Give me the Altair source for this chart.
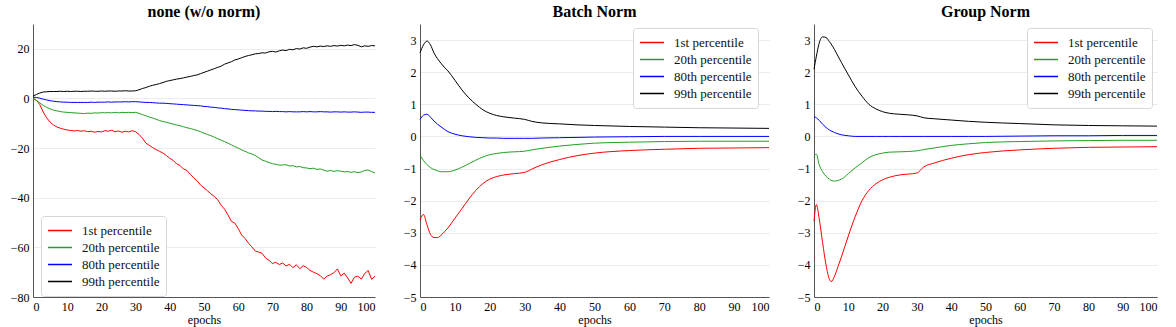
import altair as alt
import pandas as pd

SERIES = ["1st percentile", "20th percentile", "80th percentile", "99th percentile"]
COLORS = ["#ff0000", "#22a022", "#0000ff", "#000000"]
X_TICKS = [0, 10, 20, 30, 40, 50, 60, 70, 80, 90, 100]

# ---------------- Panel 1: none (w/o norm) ----------------
epochs_none = list(range(0, 101))
none_p1 = [0.0, -0.7, -2.5, -5.5, -7.8, -9.5, -10.7, -11.5, -12.0, -12.4,
           -12.7, -12.9, -13.1, -12.9, -13.2, -13.0, -13.4, -13.2, -13.6, -13.3,
           -13.5, -13.0, -13.2, -12.8, -13.4, -13.1, -13.6, -13.2, -13.5, -13.0,
           -13.4, -14.5, -16.0, -18.0, -18.9, -19.8, -20.6, -21.3, -22.0, -23.0,
           -24.1, -25.0, -26.3, -27.0, -28.4, -29.0, -30.6, -32.0, -33.2, -34.9,
           -36.0, -37.2, -38.4, -39.5, -40.8, -43.0, -44.6, -46.9, -49.5, -50.2,
           -52.4, -55.0, -56.4, -58.3, -59.8, -61.5, -61.9, -62.4, -64.3, -65.2,
           -66.5, -66.0, -66.9, -66.3, -67.5, -66.8, -68.2, -67.0, -68.6, -67.4,
           -68.1, -69.3, -70.0, -70.6, -71.4, -72.8, -71.6, -71.0, -70.2, -68.7,
           -71.5, -70.4, -72.3, -74.5, -72.0, -71.6, -72.8, -70.5, -69.3, -72.9,
           -71.6]
none_p20 = [0.0, -0.8, -1.8, -2.8, -3.6, -4.2, -4.7, -5.0, -5.3, -5.5,
            -5.6, -5.7, -5.8, -5.9, -6.0, -6.1, -5.9, -6.0, -5.8, -5.9,
            -5.7, -5.8, -5.7, -5.8, -5.6, -5.8, -5.6, -5.7, -5.6, -5.7,
            -5.6, -6.0, -6.5, -7.0, -7.5, -7.9, -8.4, -8.9, -9.3, -9.6,
            -10.0, -10.3, -10.7, -11.0, -11.4, -11.8, -12.1, -12.5, -12.9, -13.4,
            -14.0, -14.5, -15.0, -15.6, -16.2, -16.8, -17.4, -18.0, -18.7, -19.4,
            -20.0, -20.7, -21.3, -21.9, -22.4, -23.0, -23.9, -24.8, -25.3, -25.8,
            -26.3, -26.5, -26.9, -26.8, -26.7, -27.2, -27.1, -27.6, -27.4, -27.9,
            -28.0, -28.3, -28.1, -28.6, -28.4, -28.9, -29.3, -29.0, -29.4, -29.1,
            -29.3, -29.6, -29.4, -29.8, -29.5, -29.9, -29.6, -29.0, -28.8, -29.5,
            -30.0]
none_p80 = [0.5, 0.4, 0.1, -0.3, -0.6, -0.9, -1.1, -1.3, -1.4, -1.5,
            -1.5, -1.6, -1.6, -1.6, -1.6, -1.6, -1.6, -1.5, -1.6, -1.5,
            -1.5, -1.5, -1.4, -1.5, -1.4, -1.4, -1.4, -1.3, -1.4, -1.3,
            -1.3, -1.4, -1.5, -1.6, -1.6, -1.7, -1.8, -1.9, -1.9, -2.0,
            -2.1, -2.2, -2.3, -2.4, -2.5, -2.6, -2.7, -2.8, -2.9, -3.0,
            -3.2, -3.3, -3.5, -3.6, -3.8, -3.9, -4.1, -4.2, -4.4, -4.5,
            -4.6, -4.7, -4.8, -4.9, -5.0, -5.0, -5.1, -5.1, -5.2, -5.2,
            -5.3, -5.2, -5.3, -5.3, -5.4, -5.3, -5.4, -5.4, -5.4, -5.3,
            -5.4, -5.3, -5.4, -5.4, -5.3, -5.4, -5.4, -5.5, -5.4, -5.4,
            -5.5, -5.4, -5.5, -5.5, -5.4, -5.5, -5.6, -5.5, -5.5, -5.6,
            -5.6]
none_p99 = [1.0, 1.6, 2.2, 2.6, 2.7, 2.8, 2.8, 2.8, 2.9, 2.8,
            2.9, 2.8, 2.9, 2.9, 2.8, 2.9, 2.9, 3.0, 2.9, 2.9,
            3.0, 2.9, 3.0, 3.0, 2.9, 3.0, 3.0, 3.1, 3.0, 3.0,
            3.1, 3.5, 4.0, 4.4, 4.9, 5.3, 5.6, 6.0, 6.4, 6.9,
            7.2, 7.5, 7.8, 8.0, 8.3, 8.6, 8.9, 9.2, 9.5, 10.0,
            10.5, 11.0, 11.5, 12.0, 12.5, 13.0, 13.8, 14.3, 14.8, 15.5,
            15.9, 16.4, 16.9, 17.3, 17.6, 18.0, 18.1, 18.4, 18.3, 18.8,
            19.0, 18.7, 19.2, 19.5, 19.3, 19.8, 19.6, 20.1, 19.9, 20.4,
            20.2, 20.7, 21.0, 20.8, 21.1, 20.9, 21.2, 21.0, 21.3, 21.1,
            21.4, 21.2, 21.5, 21.3, 21.7, 21.4, 20.8, 21.2, 21.0, 21.3,
            21.2]

# ---------------- Panel 2: Batch Norm ----------------
epochs_bn = [0, 1, 2, 3, 4, 5, 6, 7, 8, 10, 12, 14, 16, 18, 20, 22, 24, 27, 30,
             32, 35, 40, 45, 50, 60, 70, 80, 90, 100]
bn_p1 = [-2.6, -2.43, -2.75, -3.05, -3.15, -3.15, -3.08, -2.97, -2.85, -2.55,
         -2.25, -1.95, -1.68, -1.47, -1.33, -1.25, -1.2, -1.16, -1.12,
         -1.02, -0.88, -0.72, -0.6, -0.52, -0.44, -0.4, -0.37, -0.36, -0.35]
bn_p20 = [-0.59, -0.75, -0.88, -0.97, -1.03, -1.07, -1.1, -1.1, -1.1, -1.05,
          -0.96, -0.85, -0.74, -0.64, -0.57, -0.53, -0.5, -0.48, -0.46,
          -0.42, -0.37, -0.3, -0.25, -0.21, -0.18, -0.16, -0.15, -0.15, -0.15]
bn_p80 = [0.53, 0.66, 0.69, 0.6, 0.48, 0.38, 0.3, 0.22, 0.15, 0.07,
          0.02, -0.01, -0.03, -0.04, -0.05, -0.05, -0.06, -0.06, -0.06,
          -0.06, -0.05, -0.04, -0.03, -0.02, -0.01, 0.0, 0.0, 0.0, 0.0]
bn_p99 = [2.6, 2.85, 2.97, 2.85, 2.6, 2.42, 2.28, 2.15, 2.04, 1.75,
          1.45, 1.2, 1.0, 0.83, 0.72, 0.65, 0.61, 0.57, 0.53,
          0.47, 0.42, 0.39, 0.36, 0.34, 0.31, 0.29, 0.27, 0.26, 0.25]

# ---------------- Panel 3: Group Norm ----------------
epochs_gn = [0, 0.7, 1.5, 2.5, 3.5, 4.5, 5, 6, 7, 8, 10, 12, 14, 16, 18, 20, 22,
             25, 30, 32, 35, 40, 45, 50, 60, 70, 80, 90, 100]
gn_p1 = [-2.64, -2.12, -2.55, -3.3, -4.0, -4.45, -4.52, -4.35, -4.05, -3.75,
         -3.1, -2.5, -2.0, -1.68, -1.48, -1.35, -1.27, -1.2, -1.14,
         -0.95, -0.83, -0.68, -0.57, -0.5, -0.42, -0.37, -0.34, -0.33, -0.32]
gn_p20 = [-0.62, -0.55, -0.88, -1.1, -1.24, -1.33, -1.37, -1.39, -1.37, -1.33,
          -1.16, -0.98, -0.82, -0.66, -0.57, -0.52, -0.49, -0.48, -0.45,
          -0.41, -0.36, -0.28, -0.23, -0.19, -0.16, -0.14, -0.13, -0.12, -0.12]
gn_p80 = [0.62, 0.58, 0.5, 0.38, 0.28, 0.2, 0.17, 0.12, 0.08, 0.05,
          0.02, 0.0, 0.0, 0.0, 0.0, 0.0, 0.0, 0.0, 0.0,
          0.0, 0.0, 0.0, 0.0, 0.0, 0.01, 0.02, 0.02, 0.03, 0.03]
gn_p99 = [2.09, 2.5, 2.9, 3.1, 3.08, 2.95, 2.88, 2.7, 2.5, 2.3,
          1.92, 1.55, 1.25, 1.0, 0.86, 0.77, 0.72, 0.69, 0.64,
          0.58, 0.55, 0.51, 0.47, 0.44, 0.4, 0.36, 0.34, 0.33, 0.32]

FONT = "Liberation Serif"


def make_df(epochs, series_values):
    rows = []
    for name, vals in zip(SERIES, series_values):
        for e, v in zip(epochs, vals):
            rows.append({"epoch": e, "value": v, "series": name})
    return pd.DataFrame(rows)


def panel(df, title, ydom, yvals, width, lx, ly, interp):
    legend = alt.Legend(
        title=None, orient="none", legendX=lx, legendY=ly,
        symbolType="stroke", symbolSize=576, symbolStrokeWidth=1.5,
        labelFont=FONT, labelFontSize=13, labelColor="#111111", labelOffset=9,
        padding=6, strokeColor="#d6d6d6", fillColor="white", cornerRadius=3,
        rowPadding=0, clipHeight=17, labelLimit=200,
    )
    return alt.Chart(df, title=alt.Title(
        title, font=FONT, fontSize=16, fontWeight="bold", color="black",
        anchor="middle", offset=4)).mark_line(
        strokeWidth=1, interpolate=interp).encode(
        x=alt.X("epoch:Q", scale=alt.Scale(domain=[0, 100], nice=False),
                axis=alt.Axis(values=X_TICKS, title="epochs", grid=False)),
        y=alt.Y("value:Q", scale=alt.Scale(domain=ydom, nice=False),
                axis=alt.Axis(values=yvals, title=None, grid=True)),
        color=alt.Color("series:N", sort=SERIES,
                        scale=alt.Scale(domain=SERIES, range=COLORS),
                        legend=legend),
    ).properties(width=width, height=273)


p1 = panel(make_df(epochs_none, [none_p1, none_p20, none_p80, none_p99]),
           "none (w/o norm)", [-80, 30], [-80, -60, -40, -20, 0, 20], 342,
           8, 192, "linear")
p2 = panel(make_df(epochs_bn, [bn_p1, bn_p20, bn_p80, bn_p99]),
           "Batch Norm", [-5, 3.5], [-5, -4, -3, -2, -1, 0, 1, 2, 3], 349,
           213, 4, "monotone")
p3 = panel(make_df(epochs_gn, [gn_p1, gn_p20, gn_p80, gn_p99]),
           "Group Norm", [-5, 3.5], [-5, -4, -3, -2, -1, 0, 1, 2, 3], 343,
           213, 4, "monotone")

chart = alt.hconcat(p1, p2, p3, spacing=45, bounds="flush").resolve_scale(
    color="independent").resolve_legend(color="independent").properties(
    padding={"left": 10, "top": 4, "right": 5, "bottom": 5}
).configure_view(stroke=None).configure_axis(
    labelFont=FONT, labelFontSize=12, labelColor="black",
    titleFont=FONT, titleFontSize=12, titleFontWeight="normal", titleColor="black",
    titlePadding=2, labelPadding=4,
    domainColor="#555555", domainWidth=1, tickSize=0,
    gridColor="#ececec", gridWidth=1,
)

chart.save("out.html", embed_options={"renderer": "svg", "actions": False})
